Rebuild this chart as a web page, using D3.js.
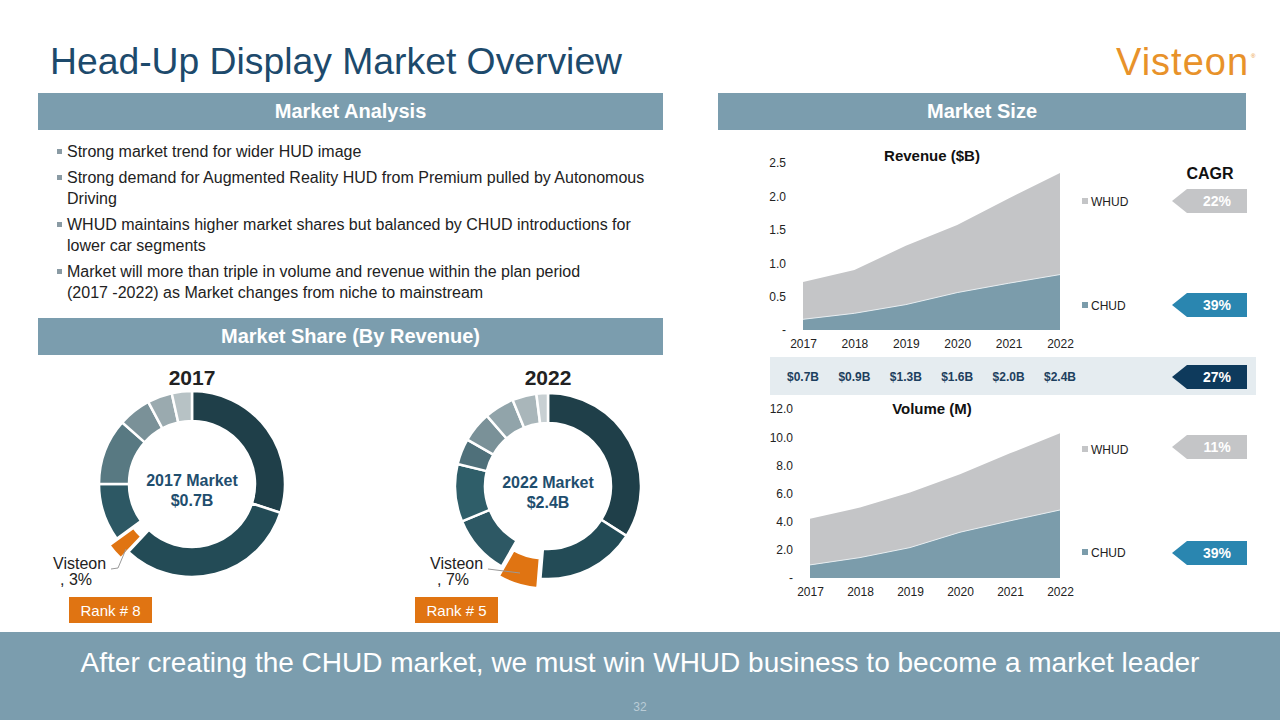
<!DOCTYPE html>
<html><head><meta charset="utf-8">
<script src="https://cdn.jsdelivr.net/npm/d3@7"></script>
<style>body{margin:0;background:#fff}svg{display:block}text{font-family:"Liberation Sans",Arial,sans-serif}</style>
</head><body><svg id="c" width="1280" height="720"></svg>
<script>
const years = ["2017","2018","2019","2020","2021","2022"];
const revCHUD = [0.16,0.25,0.38,0.56,0.70,0.83];
const revWHUD = [0.56,0.65,0.88,1.01,1.27,1.52];
const volCHUD = [0.93,1.45,2.16,3.25,4.06,4.83];
const volWHUD = [3.27,3.55,3.91,4.11,4.79,5.44];
const revTicks = [0,0.5,1.0,1.5,2.0,2.5];
const volTicks = [0,2,4,6,8,10,12];
const revTotals = ["$0.7B","$0.9B","$1.3B","$1.6B","$2.0B","$2.4B"];
const share2017 = [30,32,3,10,11.5,5.7,4.3,3.5];
const share2022 = [34,17.3,7,10.5,10,4.5,5.3,5.2,4.2,2];
const bullets = [
  ["Strong market trend for wider HUD image"],
  ["Strong demand for Augmented Reality HUD from Premium pulled by Autonomous","Driving"],
  ["WHUD maintains higher market shares but balanced by CHUD introductions for","lower car segments"],
  ["Market will more than triple in volume and revenue within the plan period","(2017 -2022) as Market changes from niche to mainstream"]
];
const cagrRev = ["22%","39%"], cagrTotal = "27%", cagrVol = ["11%","39%"];

const svg = d3.select("#c");
const HDR = "#7b9dae", ORANGE = "#e07412", NAVY = "#1f4e6e";

// title
svg.append("text").attr("x",50).attr("y",74).attr("font-size",37.3).attr("fill","#1d4a6c").text("Head-Up Display Market Overview");
const logo = svg.append("text").attr("x",1116).attr("y",75).attr("font-size",38).attr("fill","#e8922a").attr("letter-spacing",1).text("Visteon");
const lw = logo.node().getComputedTextLength();
svg.append("text").attr("x",1116+lw+2).attr("y",58).attr("font-size",6).attr("fill","#e8922a").text("®");

// header bars
function hdr(x,y,w,t){
  svg.append("rect").attr("x",x).attr("y",y).attr("width",w).attr("height",37).attr("fill",HDR);
  svg.append("text").attr("x",x+w/2).attr("y",y+25).attr("text-anchor","middle").attr("font-size",20).attr("font-weight","bold").attr("fill","#fff").text(t);
}
hdr(38,93,625,"Market Analysis");
hdr(718,93,528,"Market Size");
hdr(38,318,625,"Market Share (By Revenue)");

// bullets
let by = 157;
bullets.forEach((b,i)=>{
  svg.append("rect").attr("x",57).attr("y",by-8).attr("width",5).attr("height",5).attr("fill","#8a9ba4");
  b.forEach((l,j)=>{
    svg.append("text").attr("x",67).attr("y",by+j*21).attr("font-size",16).attr("fill","#222").text(l);
  });
  by += b.length*21 + 5;
});

// area charts
function areaChart(opts){
  const x = d3.scalePoint().domain(years).range(opts.xr);
  const y = d3.scaleLinear().domain(opts.yd).range(opts.yr);
  const g = svg.append("g");
  const stack = years.map((yr,i)=>({yr, c:opts.c[i], w:opts.w[i]}));
  g.append("path").datum(stack).attr("fill","#c4c5c7")
    .attr("d", d3.area().x(d=>x(d.yr)).y0(d=>y(d.c)).y1(d=>y(d.c+d.w)));
  g.append("path").datum(stack).attr("fill","#7b9cab")
    .attr("d", d3.area().x(d=>x(d.yr)).y0(y(0)).y1(d=>y(d.c)));
  g.append("path").datum(stack).attr("fill","none").attr("stroke","#e8edf0").attr("stroke-width",1)
    .attr("d", d3.line().x(d=>x(d.yr)).y(d=>y(d.c)));
  const ya = g.append("g").attr("transform",`translate(${opts.yax},0)`)
    .call(d3.axisLeft(y).tickValues(opts.ticks).tickSize(0).tickFormat(v=>v===0?"-":d3.format(".1f")(v)));
  ya.select(".domain").remove();
  ya.selectAll("text").attr("font-size",12).attr("fill","#222").attr("font-family","Liberation Sans, Arial");
  const xa = g.append("g").attr("transform",`translate(0,${opts.yr[0]})`)
    .call(d3.axisBottom(x).tickSize(0).tickPadding(9));
  xa.select(".domain").remove();
  xa.selectAll("text").attr("font-size",12).attr("fill","#222").attr("font-family","Liberation Sans, Arial");
  g.append("text").attr("x",opts.tx).attr("y",opts.ty).attr("text-anchor","middle").attr("font-size",15).attr("font-weight","bold").attr("fill","#111").text(opts.title);
  [["WHUD","#c4c5c7",opts.lw],["CHUD","#7b9cab",opts.lc]].forEach(([n,c,ly])=>{
    g.append("rect").attr("x",1082).attr("y",ly-4).attr("width",6).attr("height",6).attr("fill",c);
    g.append("text").attr("x",1091).attr("y",ly+4).attr("font-size",12).attr("fill","#222").text(n);
  });
  return x;
}
const xRev = areaChart({xr:[803,1060], yd:[0,2.5], yr:[330,163], c:revCHUD, w:revWHUD, ticks:revTicks, yax:789, title:"Revenue ($B)", tx:932, ty:161, lw:202, lc:306});
areaChart({xr:[810,1060], yd:[0,12], yr:[578,409], c:volCHUD, w:volWHUD, ticks:volTicks, yax:796, title:"Volume (M)", tx:932, ty:414, lw:450, lc:553});

// totals band
svg.append("rect").attr("x",770).attr("y",357).attr("width",486).attr("height",38).attr("fill","#e5ecf0");
svg.selectAll(".tot").data(revTotals).join("text").attr("x",(d,i)=>xRev(years[i])).attr("y",381)
  .attr("text-anchor","middle").attr("font-size",12).attr("font-weight","bold").attr("fill","#1d3f5e").text(d=>d);

// CAGR
svg.append("text").attr("x",1210).attr("y",179).attr("text-anchor","middle").attr("font-size",16).attr("font-weight","bold").attr("fill","#111").text("CAGR");
function arrow(cy,fill,t){
  const x0=1172,x1=1247,h=24,n=15;
  svg.append("path").attr("d",`M${x0},${cy} L${x0+n},${cy-h/2} L${x1},${cy-h/2} L${x1},${cy+h/2} L${x0+n},${cy+h/2} Z`).attr("fill",fill);
  svg.append("text").attr("x",1217).attr("y",cy+5).attr("text-anchor","middle").attr("font-size",14).attr("font-weight","bold").attr("fill","#fff").text(t);
}
arrow(201,"#c4c5c7",cagrRev[0]);
arrow(305,"#2a86b0",cagrRev[1]);
arrow(377,"#0e3a5c",cagrTotal);
arrow(447,"#c4c5c7",cagrVol[0]);
arrow(553,"#2a86b0",cagrVol[1]);

// donuts
const pal2017 = ["#1f3f49","#234b56",ORANGE,"#2d5864","#587982","#7a9198","#9aaaaf","#b7c2c5"];
const pal2022 = ["#1f3f49","#234b56",ORANGE,"#2d5864","#2f5e69","#4f707a","#7a9198","#91a4aa","#a9b6ba","#c8d0d3"];
function donut(cx,cy,data,pal,year,mkt,lab,rank,lx,rx,leader){
  const g = svg.append("g").attr("transform",`translate(${cx},${cy})`);
  const arcs = d3.pie().sort(null)(data);
  const arc = d3.arc().innerRadius(63).outerRadius(93);
  g.selectAll("path").data(arcs).join("path")
    .attr("d",arc).attr("fill",(d,i)=>pal[i]).attr("stroke","#fff").attr("stroke-width",2.5)
    .attr("transform",(d,i)=>{
      if(i!==2) return null;
      const a=(d.startAngle+d.endAngle)/2; return `translate(${Math.sin(a)*10},${-Math.cos(a)*10})`;});
  svg.append("text").attr("x",cx).attr("y",385).attr("text-anchor","middle").attr("font-size",21).attr("font-weight","bold").attr("fill","#222").text(year);
  svg.append("text").attr("x",cx).attr("y",cy+2).attr("text-anchor","middle").attr("font-size",16).attr("font-weight","bold").attr("fill",NAVY).text(year+" Market");
  svg.append("text").attr("x",cx).attr("y",cy+22).attr("text-anchor","middle").attr("font-size",16).attr("font-weight","bold").attr("fill",NAVY).text(mkt);
  svg.append("path").attr("d",leader).attr("fill","none").attr("stroke","#999").attr("stroke-width",1);
  svg.append("text").attr("x",lx).attr("y",569).attr("font-size",16).attr("fill","#222").text("Visteon");
  svg.append("text").attr("x",lx+7).attr("y",585).attr("font-size",16).attr("fill","#222").text(", "+lab);
  svg.append("rect").attr("x",rx).attr("y",597).attr("width",83).attr("height",26).attr("fill",ORANGE);
  svg.append("text").attr("x",rx+41.5).attr("y",616).attr("text-anchor","middle").attr("font-size",15).attr("fill","#fff").text("Rank # "+rank);
}
donut(192,484,share2017,pal2017,"2017","$0.7B","3%","8",53,69,"M126,549 L118,568 L111,569");
donut(548,486,share2022,pal2022,"2022","$2.4B","7%","5",430,415,"M488,569 L520,573");

// bottom band
svg.append("rect").attr("x",0).attr("y",632).attr("width",1280).attr("height",88).attr("fill",HDR);
svg.append("text").attr("x",640).attr("y",672).attr("text-anchor","middle").attr("font-size",28).attr("fill","#fff").text("After creating the CHUD market, we must win WHUD business to become a market leader");
svg.append("text").attr("x",640).attr("y",711).attr("text-anchor","middle").attr("font-size",12).attr("fill","#b9ccd6").text("32");
</script></body></html>
